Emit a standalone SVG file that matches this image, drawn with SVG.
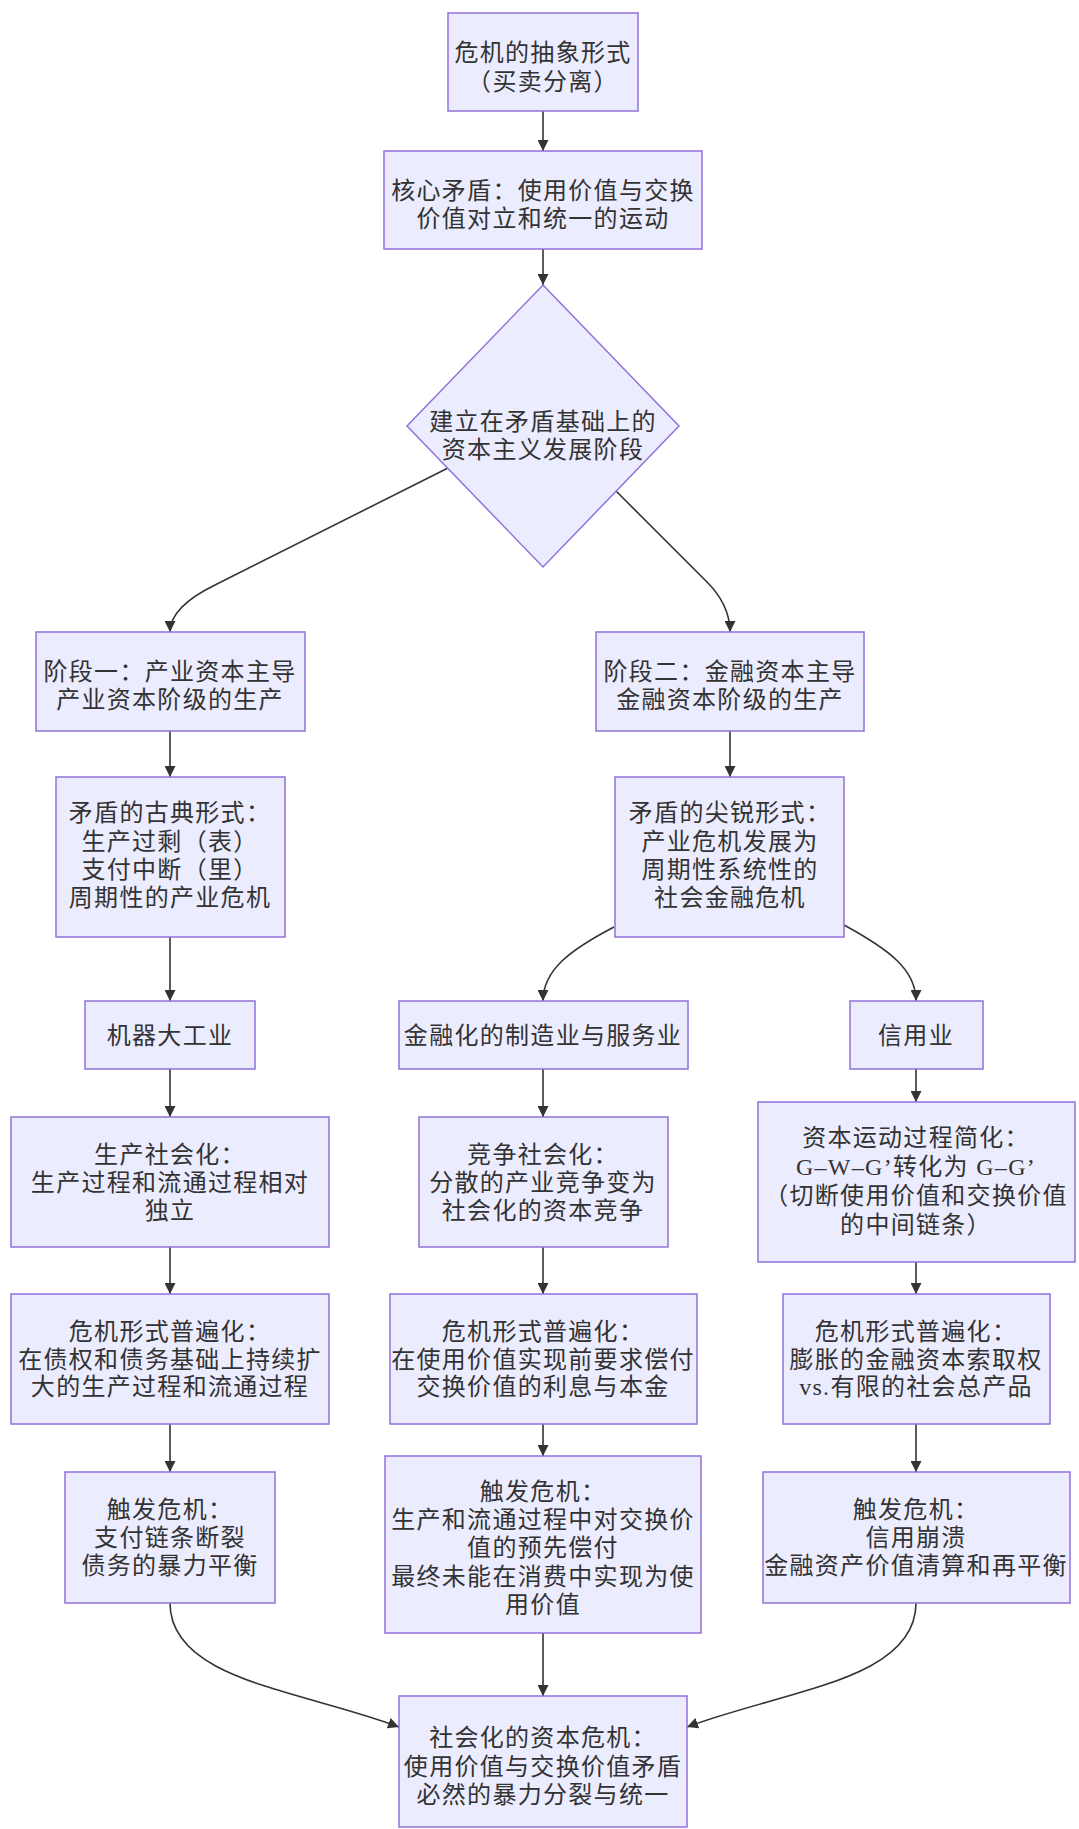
<svg xmlns="http://www.w3.org/2000/svg" width="1079" height="1829" viewBox="0 0 1079 1829">
<style>
.n{fill:#ECECFF;stroke:#9370DB;stroke-width:1.5}
.t{font-family:"Liberation Serif","Noto Sans CJK SC",serif;font-size:24px;letter-spacing:1.3px;fill:#333;text-anchor:middle;dominant-baseline:central}
.e{fill:none;stroke:#333;stroke-width:1.6}
</style>
<defs>
<marker id="ah" viewBox="0 0 10 10" refX="10" refY="5" markerWidth="11" markerHeight="11" markerUnits="userSpaceOnUse" orient="auto">
<path d="M0,0 L10,5 L0,10 z" fill="#333"/>
</marker>
</defs>
<rect width="1079" height="1829" fill="#fff"/>
<g id="connectors">
<path class="e" marker-end="url(#ah)" d="M543,111 L543,151"/>
<path class="e" marker-end="url(#ah)" d="M543,249 L543,285"/>
<path class="e" marker-end="url(#ah)" d="M448,468 L215,585 Q170,607 170,632"/>
<path class="e" marker-end="url(#ah)" d="M616,491 L705,580 Q730,604 730,632"/>
<path class="e" marker-end="url(#ah)" d="M170,731 L170,777"/>
<path class="e" marker-end="url(#ah)" d="M730,731 L730,777"/>
<path class="e" marker-end="url(#ah)" d="M170,937 L170,1001"/>
<path class="e" marker-end="url(#ah)" d="M614,927 C570,950 543,970 543,1001"/>
<path class="e" marker-end="url(#ah)" d="M844,925 C890,950 916,970 916,1001"/>
<path class="e" marker-end="url(#ah)" d="M170,1069 L170,1117"/>
<path class="e" marker-end="url(#ah)" d="M543,1069 L543,1117"/>
<path class="e" marker-end="url(#ah)" d="M916,1069 L916,1102"/>
<path class="e" marker-end="url(#ah)" d="M170,1247 L170,1294"/>
<path class="e" marker-end="url(#ah)" d="M543,1247 L543,1294"/>
<path class="e" marker-end="url(#ah)" d="M916,1262 L916,1294"/>
<path class="e" marker-end="url(#ah)" d="M170,1424 L170,1472"/>
<path class="e" marker-end="url(#ah)" d="M543,1424 L543,1456"/>
<path class="e" marker-end="url(#ah)" d="M916,1424 L916,1472"/>
<path class="e" marker-end="url(#ah)" d="M170,1603 C170,1680 300,1690 399,1727"/>
<path class="e" marker-end="url(#ah)" d="M543,1633 L543,1696"/>
<path class="e" marker-end="url(#ah)" d="M916,1603 C916,1680 786,1690 687,1727"/>
</g>
<g id="n1"><rect class="n" x="448" y="13" width="190" height="98"/><text class="t" x="543" y="53">危机的抽象形式</text><text class="t" x="543" y="82">（买卖分离）</text></g>
<g id="n2"><rect class="n" x="384" y="151" width="318" height="98"/><text class="t" x="543" y="191">核心矛盾：使用价值与交换</text><text class="t" x="543" y="219">价值对立和统一的运动</text></g>
<g id="n3"><polygon class="n" points="543,285 679,426 543,567 407,426"/><text class="t" x="543" y="422">建立在矛盾基础上的</text><text class="t" x="543" y="450">资本主义发展阶段</text></g>
<g id="n4"><rect class="n" x="36" y="632" width="269" height="99"/><text class="t" x="170" y="672">阶段一：产业资本主导</text><text class="t" x="170" y="700">产业资本阶级的生产</text></g>
<g id="n5"><rect class="n" x="596" y="632" width="268" height="99"/><text class="t" x="730" y="672">阶段二：金融资本主导</text><text class="t" x="730" y="700">金融资本阶级的生产</text></g>
<g id="n6"><rect class="n" x="56" y="777" width="229" height="160"/><text class="t" x="170" y="813">矛盾的古典形式：</text><text class="t" x="170" y="842">生产过剩（表）</text><text class="t" x="170" y="870">支付中断（里）</text><text class="t" x="170" y="898">周期性的产业危机</text></g>
<g id="n7"><rect class="n" x="615" y="777" width="229" height="160"/><text class="t" x="730" y="813">矛盾的尖锐形式：</text><text class="t" x="730" y="842">产业危机发展为</text><text class="t" x="730" y="870">周期性系统性的</text><text class="t" x="730" y="898">社会金融危机</text></g>
<g id="n8"><rect class="n" x="85" y="1001" width="170" height="68"/><text class="t" x="170" y="1036">机器大工业</text></g>
<g id="n9"><rect class="n" x="399" y="1001" width="289" height="68"/><text class="t" x="543" y="1036">金融化的制造业与服务业</text></g>
<g id="n10"><rect class="n" x="850" y="1001" width="133" height="68"/><text class="t" x="916" y="1036">信用业</text></g>
<g id="n11"><rect class="n" x="11" y="1117" width="318" height="130"/><text class="t" x="170" y="1155">生产社会化：</text><text class="t" x="170" y="1183">生产过程和流通过程相对</text><text class="t" x="170" y="1211">独立</text></g>
<g id="n12"><rect class="n" x="419" y="1117" width="249" height="130"/><text class="t" x="543" y="1155">竞争社会化：</text><text class="t" x="543" y="1183">分散的产业竞争变为</text><text class="t" x="543" y="1211">社会化的资本竞争</text></g>
<g id="n13"><rect class="n" x="758" y="1102" width="317" height="160"/><text class="t" x="916" y="1138">资本运动过程简化：</text><text class="t" x="916" y="1167">G–W–G’转化为 G–G’</text><text class="t" x="916" y="1196">（切断使用价值和交换价值</text><text class="t" x="916" y="1225">的中间链条）</text></g>
<g id="n14"><rect class="n" x="11" y="1294" width="318" height="130"/><text class="t" x="170" y="1332">危机形式普遍化：</text><text class="t" x="170" y="1360">在债权和债务基础上持续扩</text><text class="t" x="170" y="1387">大的生产过程和流通过程</text></g>
<g id="n15"><rect class="n" x="390" y="1294" width="307" height="130"/><text class="t" x="543" y="1332">危机形式普遍化：</text><text class="t" x="543" y="1360">在使用价值实现前要求偿付</text><text class="t" x="543" y="1387">交换价值的利息与本金</text></g>
<g id="n16"><rect class="n" x="783" y="1294" width="267" height="130"/><text class="t" x="916" y="1332">危机形式普遍化：</text><text class="t" x="916" y="1360">膨胀的金融资本索取权</text><text class="t" x="916" y="1387">vs.有限的社会总产品</text></g>
<g id="n17"><rect class="n" x="65" y="1472" width="210" height="131"/><text class="t" x="170" y="1510">触发危机：</text><text class="t" x="170" y="1538">支付链条断裂</text><text class="t" x="170" y="1566">债务的暴力平衡</text></g>
<g id="n18"><rect class="n" x="385" y="1456" width="316" height="177"/><text class="t" x="543" y="1492">触发危机：</text><text class="t" x="543" y="1520">生产和流通过程中对交换价</text><text class="t" x="543" y="1548">值的预先偿付</text><text class="t" x="543" y="1577">最终未能在消费中实现为使</text><text class="t" x="543" y="1605">用价值</text></g>
<g id="n19"><rect class="n" x="763" y="1472" width="307" height="131"/><text class="t" x="916" y="1510">触发危机：</text><text class="t" x="916" y="1538">信用崩溃</text><text class="t" x="916" y="1566">金融资产价值清算和再平衡</text></g>
<g id="n20"><rect class="n" x="399" y="1696" width="288" height="131"/><text class="t" x="543" y="1738">社会化的资本危机：</text><text class="t" x="543" y="1767">使用价值与交换价值矛盾</text><text class="t" x="543" y="1795">必然的暴力分裂与统一</text></g>
</svg>
